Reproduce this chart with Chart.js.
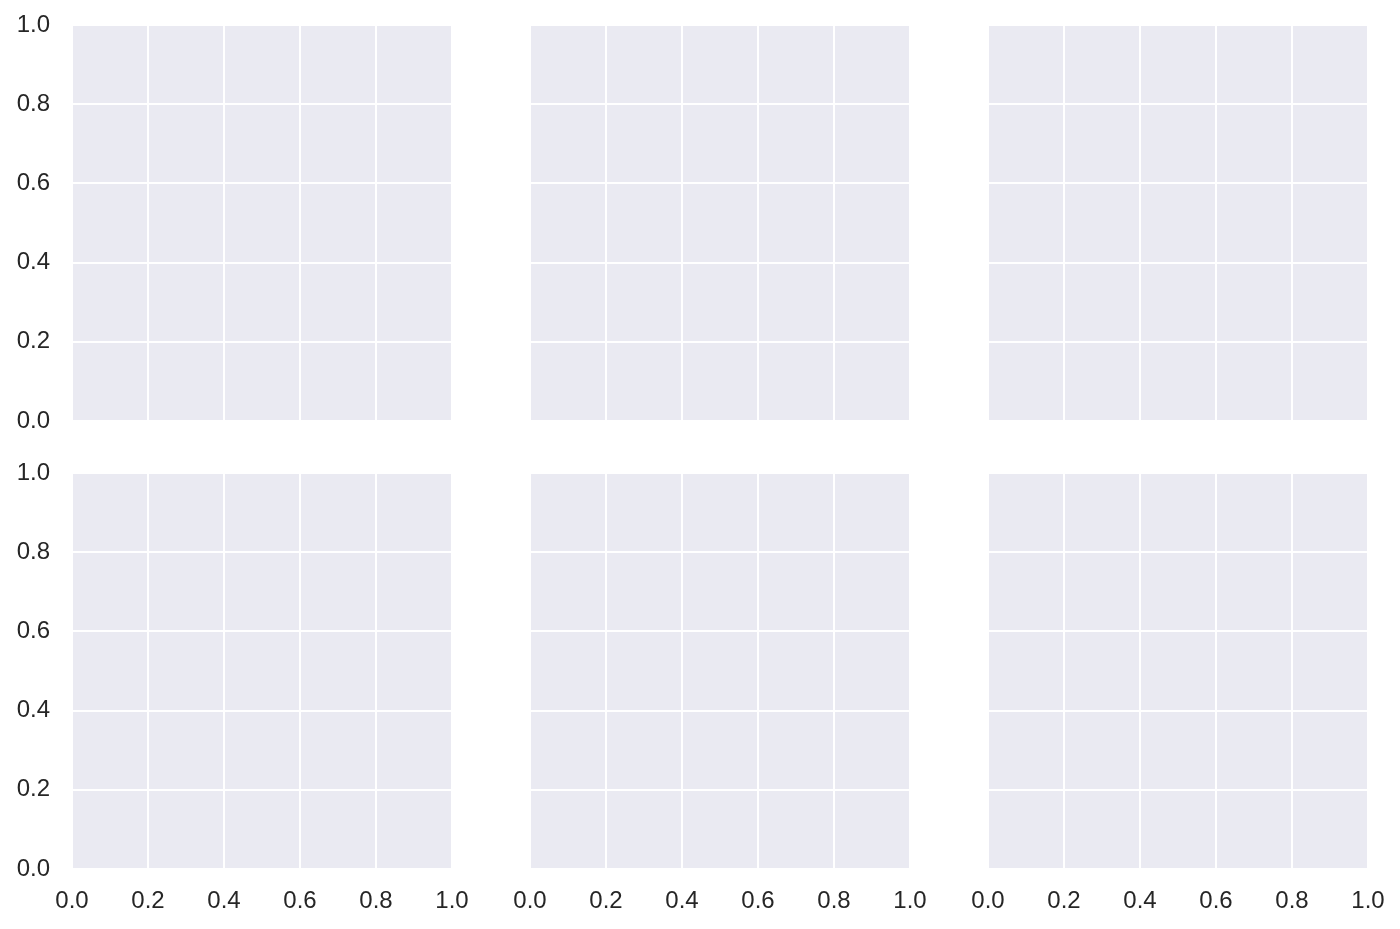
<!DOCTYPE html>
<html>
<head>
<meta charset="utf-8">
<script src="https://cdn.jsdelivr.net/npm/chart.js@4.4.1/dist/chart.umd.min.js"></script>
<style>
  html, body { margin: 0; padding: 0; background: #ffffff; }
  #wrap { position: relative; width: 1400px; height: 929px; overflow: hidden; }
  canvas { position: absolute; }
</style>
</head>
<body>
<div id="wrap"></div>
<script>
// Data (all panels are empty axes with 0..1 ranges)
const xTickLabels = ["0.0", "0.2", "0.4", "0.6", "0.8", "1.0"];
const yTickLabels = ["0.0", "0.2", "0.4", "0.6", "0.8", "1.0"];
const xTickValues = [0, 0.2, 0.4, 0.6, 0.8, 1.0];
const yTickValues = [0, 0.2, 0.4, 0.6, 0.8, 1.0];
const nRows = 2;
const nCols = 3;
const panelData = [[], [], [], [], [], []];

// Layout
const colLefts = [72, 530, 988];
const rowTops = [25, 473];
const panelW = 380;
const panelH = 396;
const yAxisW = 72;
const xAxisH = 60;
const padTop = 25;
const padRight = 20;

const bgPlugin = {
  id: 'axbg',
  beforeDraw(chart) {
    const { ctx, chartArea: a } = chart;
    ctx.save();
    ctx.fillStyle = '#EAEAF2';
    ctx.fillRect(a.left, a.top, a.right - a.left, a.bottom - a.top);
    ctx.restore();
  }
};

function zeroPad(s) {
  s.paddingTop = 0; s.paddingBottom = 0; s.paddingLeft = 0; s.paddingRight = 0;
}

const wrap = document.getElementById('wrap');
for (let r = 0; r < nRows; r++) {
  for (let c = 0; c < nCols; c++) {
    const cv = document.createElement('canvas');
    const w = yAxisW + panelW + padRight;
    const h = padTop + panelH + xAxisH;
    cv.width = w; cv.height = h;
    cv.style.width = w + 'px'; cv.style.height = h + 'px';
    cv.style.left = (colLefts[c] - yAxisW) + 'px';
    cv.style.top = (rowTops[r] - padTop) + 'px';
    wrap.appendChild(cv);
    const showY = c === 0;
    const showX = r === nRows - 1;
    new Chart(cv.getContext('2d'), {
      type: 'scatter',
      data: { datasets: [{ data: panelData[r * nCols + c], pointRadius: 0 }] },
      plugins: [bgPlugin],
      options: {
        responsive: false,
        animation: false,
        devicePixelRatio: 1,
        events: [],
        layout: { autoPadding: false, padding: { top: padTop, right: padRight, left: 0, bottom: 0 } },
        plugins: { legend: { display: false }, tooltip: { enabled: false } },
        scales: {
          x: {
            type: 'linear', min: 0, max: 1,
            afterBuildTicks(s) { s.ticks = xTickValues.map(v => ({ value: v })); },
            afterFit(s) { s.height = xAxisH; zeroPad(s); },
            border: { display: false },
            grid: { color: '#ffffff', lineWidth: 2, drawTicks: false },
            ticks: {
              display: showX,
              padding: 18,
              color: '#262626',
              font: { family: 'Liberation Sans, Arial, sans-serif', size: 24 },
              maxRotation: 0,
              autoSkip: false,
              callback: (v, i) => xTickLabels[i]
            }
          },
          y: {
            type: 'linear', min: 0, max: 1,
            afterBuildTicks(s) { s.ticks = yTickValues.map(v => ({ value: v })); },
            afterFit(s) { s.width = yAxisW; zeroPad(s); },
            border: { display: false },
            grid: { color: '#ffffff', lineWidth: 2, drawTicks: false },
            ticks: {
              display: showY,
              padding: 22,
              color: '#262626',
              font: { family: 'Liberation Sans, Arial, sans-serif', size: 24 },
              autoSkip: false,
              callback: (v, i) => yTickLabels[i]
            }
          }
        }
      }
    });
  }
}
</script>
</body>
</html>
